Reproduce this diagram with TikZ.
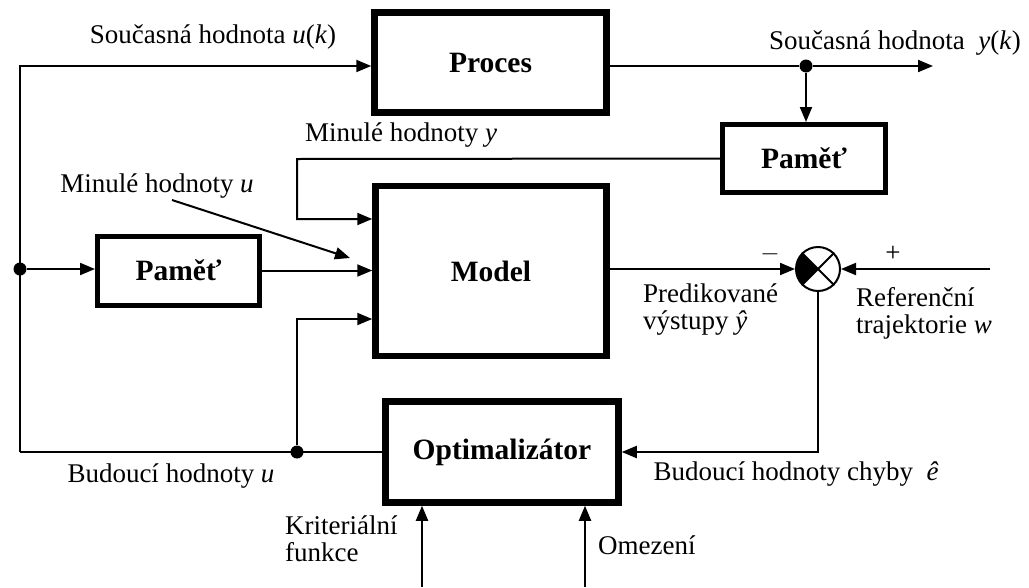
\documentclass[tikz,border=0pt]{standalone}
\usepackage{fontspec}
\setmainfont{Liberation Serif}
\usetikzlibrary{arrows.meta,calc}

\tikzset{
  blk/.style={draw, line width=6.5pt, inner sep=0pt,
              font=\fontsize{29.5}{33}\selectfont\bfseries},
  memblk/.style={blk, line width=5pt},
  wire/.style={line width=2pt},
  arr/.style={wire, -{Triangle[length=15pt,width=12pt]}},
  lbl/.style={font=\fontsize{27}{27}\selectfont, inner sep=0pt},
  dot/.style={circle, fill, inner sep=0pt, minimum size=13pt},
}

\begin{document}
\begin{tikzpicture}[x=1pt,y=-1pt]
\useasboundingbox (0,0) rectangle (1029,587);

% blocks
\node[blk, minimum width=232pt, minimum height=100pt] (proc)  at (490.5,62.5) {Proces};
\node[memblk, minimum width=163pt, minimum height=68pt] (memy) at (804,158.5) {Paměť};
\node[blk, minimum width=231pt, minimum height=170pt] (model) at (491,271)    {Model};
\node[memblk, minimum width=162pt, minimum height=69pt] (memu) at (178.5,270.5) {Paměť};
\node[blk, minimum width=233pt, minimum height=101pt] (opt)   at (502,452)    {Optimalizátor};

% summing junction
\node[circle, draw, line width=2pt, minimum size=44pt, inner sep=0pt] (sum) at (818,269) {};
\begin{scope}
  \clip (sum.center) -- ++(-40,-40) -- ++(0,80) -- cycle;
  \fill (sum.center) circle[radius=22pt];
\end{scope}
\draw[wire] (sum.45) -- (sum.225);
\draw[wire] (sum.135) -- (sum.315);

% branch points and free ends
\node[dot] (dy) at (806,66) {};
\node[dot] (dl) at (20,269) {};
\node[dot] (db) at (297,452) {};
\coordinate (tl) at (20,66);
\coordinate (bl) at (20,452);
\coordinate (yo) at (933,66);
\coordinate (ya) at (297,159);
\coordinate (yb) at (297,219);
\coordinate (ub) at (297,319);
\coordinate (w)  at (990,269);
\coordinate (ec) at (818,452);
\coordinate (k0) at (422,587);
\coordinate (o0) at (585,587);
\coordinate (mu0) at (172,200);
\coordinate (mu1) at (350,258);

% input u(k) and its history
\draw[arr] (bl) -- (tl) -- (proc.west |- tl);
\draw[arr] (dl) -- (memu.west |- dl);
\draw[arr] (memu.east) -- (model.west |- memu.east);
\draw[wire] (bl) -- (opt.west |- bl);
\draw[arr] (db) -- (ub) -- (model.west |- ub);

% output y(k) and its history
\draw[wire] (proc.east |- dy) -- (dy);
\draw[arr] (dy) -- (yo);
\draw[arr] (dy) -- (dy |- memy.north);
\draw[arr] (memy.west) -- (ya) -- (yb) -- (model.west |- yb);

% prediction error loop
\draw[arr] (model.east |- sum) -- (sum.west);
\draw[arr] (w) -- (sum.east);
\draw[arr] (sum.south) -- (ec) -- (opt.east |- ec);
\draw[arr] (k0) -- (k0 |- opt.south);
\draw[arr] (o0) -- (o0 |- opt.south);
\draw[arr] (mu0) -- (mu1);

% labels
\node[lbl] (lu)  at (213,37)  {Současná hodnota \textit{u}(\textit{k})};
\node[lbl] (ly)  at (895,43)  {Současná hodnota \ \textit{y}(\textit{k})};
\node[lbl] (lmy) at (401,135) {Minulé hodnoty \textit{y}};
\node[lbl] (lmu) at (157,186) {Minulé hodnoty \textit{u}};
\node[lbl] (lm)  at (770,254) {$-$};
\node[lbl] (lp)  at (893,254) {+};
\node[lbl, align=left, anchor=north west] (lpr) at (643,284) {Predikované\\výstupy \textit{ŷ}};
\node[lbl, align=left, anchor=north west] (lrf) at (856,287) {Referenční\\trajektorie \textit{w}};
\node[lbl] (lbu) at (171,476) {Budoucí hodnoty \textit{u}};
\node[lbl] (lbe) at (796,474) {Budoucí hodnoty chyby \ \textit{ê}};
\node[lbl, align=left, anchor=north west] (lkf) at (285,516) {Kriteriální\\funkce};
\node[lbl, anchor=west] (lom) at (598,545) {Omezení};
\end{tikzpicture}
\end{document}
